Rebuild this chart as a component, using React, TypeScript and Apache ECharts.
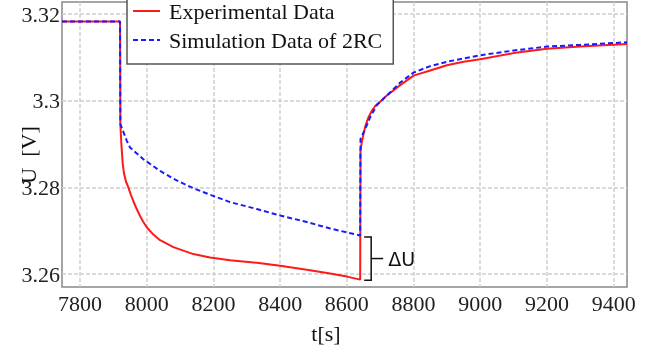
import React, { useEffect, useRef } from "react";
import * as echarts from "echarts";

// Experimental data: time [s] and voltage [V]
const expTime = [7746, 7920, 7921, 7924, 7928, 7932, 7938, 7945, 7952, 7960, 7970, 7980, 7990, 8000, 8020, 8040, 8080, 8140, 8190, 8250, 8330, 8400, 8480, 8550, 8600, 8640, 8641, 8645, 8650, 8657, 8665, 8675, 8685, 8700, 8720, 8760, 8800, 8850, 8900, 8950, 9000, 9100, 9200, 9300, 9440];
const expVolt = [3.3183, 3.3183, 3.2945, 3.29, 3.2855, 3.2832, 3.2813, 3.28, 3.2784, 3.2768, 3.275, 3.2734, 3.272, 3.2708, 3.2691, 3.2678, 3.2662, 3.2646, 3.2638, 3.2632, 3.2626, 3.2619, 3.261, 3.2601, 3.2594, 3.2587, 3.2885, 3.2905, 3.2923, 3.2945, 3.2962, 3.2977, 3.2988, 3.2998, 3.3012, 3.3036, 3.3058, 3.307, 3.3082, 3.309, 3.3096, 3.311, 3.312, 3.3125, 3.3131];

// Simulation data of 2RC model
const simTime = [7746, 7920, 7921, 7940, 7950, 7990, 8040, 8090, 8140, 8190, 8250, 8330, 8400, 8480, 8550, 8640, 8641, 8655, 8670, 8690, 8720, 8760, 8800, 8850, 8900, 9000, 9100, 9200, 9300, 9440];
const simVolt = [3.3183, 3.3183, 3.2946, 3.2908, 3.2892, 3.2865, 3.2838, 3.2816, 3.2798, 3.2783, 3.2766, 3.275, 3.2735, 3.272, 3.2705, 3.2689, 3.2912, 3.2935, 3.2962, 3.299, 3.3012, 3.3042, 3.3065, 3.308, 3.309, 3.3105, 3.3116, 3.3125, 3.3129, 3.3135];

const seriesNames = ["Experimental Data", "Simulation Data of 2RC"];
const xTicks = [7800, 8000, 8200, 8400, 8600, 8800, 9000, 9200, 9400];
const yTicks = [3.26, 3.28, 3.3, 3.32];
const yTickLabels = ["3.26", "3.28", "3.3", "3.32"];
const xName = "t[s]";
const yName = "U  [V]";
const deltaLabel = "ΔU";

export default function App() {
  const ref = useRef<HTMLDivElement>(null);
  useEffect(() => {
    const chart = echarts.init(ref.current!, null, { renderer: "svg" });
    const serif = "'Liberation Serif', 'Times New Roman', serif";
    chart.setOption({
      animation: false,
      grid: {
        left: 62, right: 29, top: 2, bottom: 64,
        show: true, borderColor: "#888", borderWidth: 1.5, backgroundColor: "transparent",
      },
      xAxis: {
        type: "value", min: 7746, max: 9440,
        axisLine: { show: false },
        axisTick: { show: false, customValues: xTicks },
        axisLabel: {
          customValues: xTicks, fontSize: 22, fontFamily: serif, color: "#222", margin: 5,
          formatter: (v: number) => String(Math.round(v)),
        },
        splitLine: { show: true, lineStyle: { color: "#cfcfcf", type: [4, 2], width: 1.5 } },
      },
      yAxis: {
        type: "value", min: 3.257, max: 3.3228,
        axisLine: { show: false },
        axisTick: { show: false, customValues: yTicks },
        axisLabel: {
          customValues: yTicks, fontSize: 22, fontFamily: serif, color: "#222", margin: 2,
          formatter: (v: number) => {
            const i = yTicks.findIndex((t) => Math.abs(t - v) < 1e-6);
            return i >= 0 ? yTickLabels[i] : "";
          },
        },
        splitLine: { show: true, lineStyle: { color: "#cfcfcf", type: [4, 2], width: 1.5 } },
      },
      legend: {
        left: 127, top: -12, orient: "vertical",
        padding: [12, 11, 13, 5], itemGap: 7, itemWidth: 27, itemHeight: 14,
        backgroundColor: "#fff", borderColor: "#555", borderWidth: 1.5,
        itemStyle: { opacity: 0 },
        textStyle: { fontSize: 22, lineHeight: 22, fontFamily: serif, color: "#111", padding: [0, 0, 0, 4] },
        data: seriesNames,
        z: 10,
      },
      series: [
        {
          name: seriesNames[0], type: "line", symbol: "none", showSymbol: false,
          data: expTime.map((t, i) => [t, expVolt[i]]),
          lineStyle: { color: "#ff1a1a", width: 2 }, itemStyle: { color: "#ff1a1a" }, z: 2,
        },
        {
          name: seriesNames[1], type: "line", symbol: "none", showSymbol: false,
          data: simTime.map((t, i) => [t, simVolt[i]]),
          lineStyle: { color: "#1a1aff", width: 2, type: [5, 3] }, itemStyle: { color: "#1a1aff" }, z: 3,
        },
      ],
    });

    // Delta U annotation placed from the data end points of the discharge
    let endIdx = 0;
    expVolt.forEach((v, i) => { if (v < expVolt[endIdx]) endIdx = i; });
    const tEnd = expTime[endIdx];
    const simIdx = simTime.indexOf(tEnd);
    const pe = chart.convertToPixel({ gridIndex: 0 }, [tEnd, expVolt[endIdx]]) as number[];
    const ps = chart.convertToPixel({ gridIndex: 0 }, [tEnd, simVolt[simIdx]]) as number[];
    const bx = pe[0] + 11;
    const ty = ps[1] + 1.5;
    const by = pe[1] + 0.5;
    const mid = (ty + by) / 2;
    chart.setOption({
      graphic: [
        {
          type: "polyline",
          shape: { points: [[bx - 7, ty], [bx, ty], [bx, by], [bx - 7, by]] },
          style: { stroke: "#111", lineWidth: 1.5, fill: null },
        },
        { type: "line", shape: { x1: bx, y1: mid, x2: bx + 12, y2: mid }, style: { stroke: "#111", lineWidth: 1.5 } },
        {
          type: "text", x: bx + 17, y: mid,
          style: { text: deltaLabel, fontSize: 19, fontFamily: "'DejaVu Sans', sans-serif", fill: "#111", verticalAlign: "middle" },
        },
        {
          type: "text", x: 28, y: 155, rotation: Math.PI / 2,
          style: { text: yName, fontSize: 22, fontFamily: serif, fill: "#111", align: "center", verticalAlign: "middle" },
        },
        {
          type: "text", x: 326, y: 333,
          style: { text: xName, fontSize: 22, fontFamily: serif, fill: "#111", align: "center", verticalAlign: "middle" },
        },
      ],
    });
    return () => chart.dispose();
  }, []);
  return <div ref={ref} style={{ position: "fixed", left: 0, top: 0, width: 656, height: 351 }} />;
}
